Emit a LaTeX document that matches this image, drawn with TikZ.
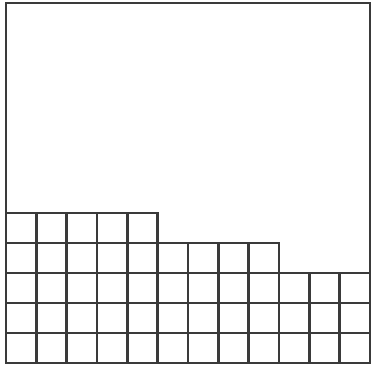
\documentclass[tikz,border=0pt]{standalone}
\usepackage{tikz}
\definecolor{cInk}{HTML}{3A3A3A}

\begin{document}
\begin{tikzpicture}[
  x=1cm, y=0.989cm,
  ink/.style={draw=cInk, line width=2.4pt},
  gridline/.style={ink, line cap=rect},
]
\useasboundingbox (-0.2,-0.133) rectangle (12.03,12.1);

% ---------------- outer frame ----------------
\draw[ink] (0,0) rectangle (12,12);

% ---------------- stepped grid ----------------
% rows: line height / length
\foreach \y/\len in {0/12, 1/12, 2/12, 3/12, 4/9, 5/5}
  \draw[gridline] (0,\y) -- (\len,\y);
% columns: line position / height
\foreach \x/\h in {0/5, 1/5, 2/5, 3/5, 4/5, 5/5, 6/4, 7/4, 8/4, 9/4, 10/3, 11/3, 12/3}
  \draw[gridline] (\x,0) -- (\x,\h);

\end{tikzpicture}
\end{document}
